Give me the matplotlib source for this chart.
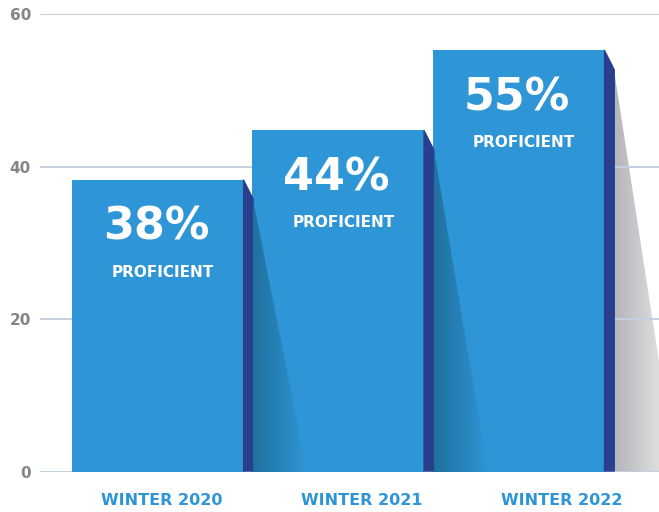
import matplotlib.pyplot as plt
import numpy as np
from matplotlib.patches import Polygon
from matplotlib.colors import to_rgb

plt.rcParams['font.family'] = ['DejaVu Sans']

# data
seasons = ['WINTER 2020', 'WINTER 2021', 'WINTER 2022']
heights = [38.3, 44.8, 55.3]
pct_labels = ['38%', '44%', '55%']
sub_label = 'PROFICIENT'
yticks = [0, 20, 40, 60]

# style
bar_color = '#2E96D6'
side_color = '#283F8E'
grid_color = '#C3D0E1'
bar_w = 0.953
side_w = 0.0554
side_drop = 2.6
shadow_len = [0.294, 0.299, 0.34]
label_step = 1.108
label_off = 0.022

fig = plt.figure(figsize=(6.59, 5.12), dpi=100)
ax = fig.add_axes([40 / 659, 0.0787, 619 / 659, 0.894])
ax.set_xlim(-0.654, 2.776)
ax.set_ylim(0, 60)

for s in ax.spines.values():
    s.set_visible(False)

ax.set_yticks(yticks)
ax.set_yticklabels([str(t) for t in yticks])
ax.tick_params(axis='y', length=0, pad=6.5, labelsize=11, labelcolor='#858585')
for lab in ax.get_yticklabels():
    lab.set_fontweight('bold')
ax.yaxis.grid(True, color=grid_color, linewidth=1.4)
ax.set_axisbelow('line')  # grid at zorder 1.5: above the last shadow, below the bars

xpos = np.arange(len(heights))
ax.set_xticks(xpos * label_step + label_off)
ax.set_xticklabels(seasons)
ax.tick_params(axis='x', length=0, pad=15, labelsize=11.5, labelcolor=bar_color)
for lab in ax.get_xticklabels():
    lab.set_fontweight('bold')


def gradient_fill(poly, c0, c1, z):
    xs = poly.get_xy()[:, 0]
    ys = poly.get_xy()[:, 1]
    g = np.linspace(0, 1, 256)
    a, b = np.array(to_rgb(c0)), np.array(to_rgb(c1))
    img = (a[None, :] * (1 - g[:, None]) + b[None, :] * g[:, None])[None, :, :]
    im = ax.imshow(img, extent=[xs.min(), xs.max(), ys.min(), ys.max()],
                   aspect='auto', origin='lower', zorder=z, interpolation='bilinear')
    im.set_clip_path(poly)


bars = ax.bar(xpos, heights, width=bar_w, color=bar_color, zorder=2)
for i, (b, h) in enumerate(zip(bars, heights)):
    xr = b.get_x() + b.get_width()
    # dark side strip with slanted top (slight overlap to hide the seam)
    side = Polygon([(xr - 0.006, h), (xr, h), (xr + side_w, h - side_drop),
                    (xr + side_w, 0), (xr - 0.006, 0)],
                   closed=True, facecolor=side_color, edgecolor='none', zorder=3)
    ax.add_patch(side)
    # trailing shadow
    sh = Polygon([(xr + side_w - 0.004, h - side_drop), (xr + side_w - 0.004, 0),
                  (xr + side_w + shadow_len[i], 0)],
                 closed=True, facecolor='none', edgecolor='none',
                 transform=ax.transData)
    ax.add_patch(sh)
    if i < len(heights) - 1:
        gradient_fill(sh, '#21709F', bar_color, 3)
    else:
        gradient_fill(sh, '#B3B4B9', '#EEEEEE', 1)

    cx = b.get_x() + b.get_width() / 2
    ax.annotate(pct_labels[i], (cx, h), xytext=(-1.5, -34.5), textcoords='offset points',
                ha='center', va='center', color='white', fontsize=32,
                fontweight='bold', zorder=5)
    ax.annotate(sub_label, (cx, h), xytext=(3.5, -67), textcoords='offset points',
                ha='center', va='center', color='white', fontsize=11,
                fontweight='bold', zorder=5)

fig.savefig('out.png', dpi=100)
